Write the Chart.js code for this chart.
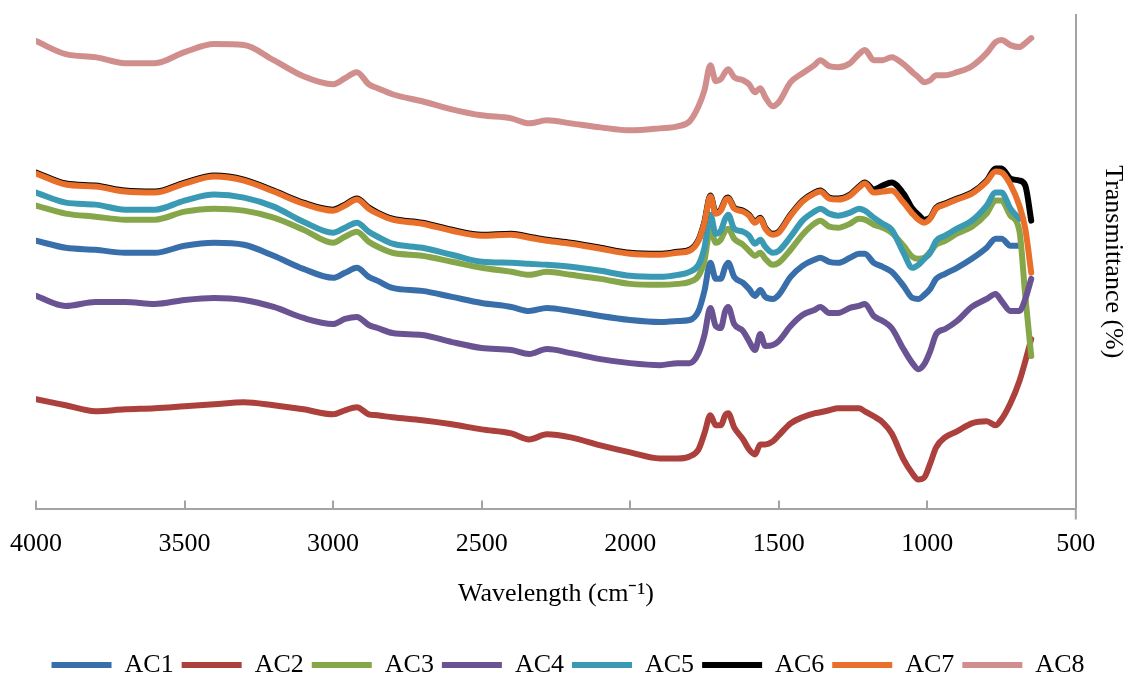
<!DOCTYPE html>
<html>
<head>
<meta charset="utf-8">
<script src="https://cdn.jsdelivr.net/npm/chart.js@4/dist/chart.umd.min.js"></script>
<style>
  html, body { margin: 0; padding: 0; background: #fff; overflow: hidden; }
</style>
</head>
<body>
<canvas id="ftir" width="1130" height="675"></canvas>
<script>
// FTIR spectra, transmittance in arbitrary units (curves are offset, no y ticks)
const wavenumbers = [4000, 3900, 3800, 3700, 3600, 3500, 3400, 3300, 3200, 3100,
  3000, 2960, 2920, 2880, 2850, 2800, 2700, 2600, 2500, 2400,
  2340, 2280, 2200, 2100, 2000, 1900, 1840, 1800, 1770, 1750,
  1730, 1712, 1695, 1680, 1670, 1650, 1620, 1600, 1580, 1562,
  1545, 1520, 1500, 1460, 1420, 1380, 1360, 1330, 1300, 1260,
  1230, 1210, 1180, 1150, 1120, 1080, 1050, 1030, 1010, 990,
  970, 940, 900, 850, 800, 770, 750, 720, 690, 670,
  650];

const ac1 = [267, 260, 258, 255, 255, 262, 265, 263, 252, 239,
  230, 235, 240, 231, 227, 220, 217, 211, 205, 201,
  197, 200, 197, 192, 188, 186, 187, 188, 197, 217,
  245, 229, 229, 241, 245, 231, 225, 219, 212, 218,
  211, 209, 213, 231, 242, 248, 250, 246, 245, 250,
  254, 254, 245, 241, 236, 222, 210, 209, 213, 219,
  229, 234, 240, 249, 260, 269, 269, 262, 262, null,
  null];

const ac2 = [109, 103, 97, 99, 100, 102, 104, 106, 103, 99,
  94, 98, 101, 94, 93, 91, 88, 84, 79, 75,
  69, 74, 71, 63, 56, 50, 50, 52, 59, 75,
  93, 83, 83, 93, 95, 81, 69, 59, 54, 64,
  64, 67, 73, 85, 91, 95, 96, 98, 100, 100,
  100, 97, 92, 86, 75, 49, 35, 29, 31, 45,
  61, 71, 77, 85, 87, 83, 89, 105, 127, 147,
  169];

const ac3 = [302, 294, 291, 288, 288, 296, 299, 297, 290, 278,
  265, 271, 276, 266, 261, 255, 252, 246, 240, 236,
  233, 236, 233, 229, 224, 223, 224, 226, 232, 247,
  279, 265, 268, 277, 279, 269, 263, 257, 252, 255,
  249, 243, 245, 258, 273, 284, 287, 281, 280, 284,
  289, 288, 283, 280, 275, 262, 251, 249, 250, 256,
  263, 267, 274, 281, 294, 307, 307, 292, 277, 212,
  152];

const ac4 = [212, 202, 206, 206, 204, 208, 210, 208, 201, 190,
  184, 189, 191, 183, 180, 175, 173, 166, 160, 158,
  154, 159, 155, 149, 145, 143, 145, 145, 155, 173,
  200, 182, 180, 197, 201, 184, 177, 167, 158, 174,
  162, 163, 167, 182, 193, 198, 201, 195, 195, 200,
  202, 204, 192, 187, 180, 159, 145, 139, 144, 157,
  174, 179, 187, 201, 209, 214, 207, 197, 197, 209,
  229];

const ac5 = [315, 305, 303, 298, 298, 307, 313, 310, 301, 286,
  275, 280, 285, 276, 271, 264, 260, 253, 246, 245,
  244, 243, 241, 237, 232, 231, 233, 236, 243, 260,
  293, 274, 277, 289, 293, 279, 276, 272, 264, 268,
  261, 255, 257, 271, 287, 296, 299, 294, 292, 295,
  299, 297, 290, 284, 278, 255, 240, 243, 249, 255,
  267, 272, 279, 287, 302, 315, 315, 299, 289, null,
  null];

const ac6 = [335, 324, 322, 317, 316, 325, 332, 328, 317, 305,
  298, 303, 309, 300, 295, 289, 285, 278, 273, 274,
  271, 268, 265, 260, 255, 254, 256, 258, 268, 286,
  312, 295, 298, 308, 310, 300, 297, 293, 286, 290,
  280, 274, 276, 293, 307, 315, 317, 310, 309, 313,
  321, 325, 318, 322, 325, 314, 299, 293, 288, 290,
  300, 304, 309, 315, 327, 339, 339, 329, 327, 322,
  287];

const ac7 = [334, 323, 321, 316, 315, 324, 331, 327, 316, 304,
  297, 302, 308, 299, 294, 288, 284, 277, 272, 273,
  270, 267, 264, 259, 254, 253, 255, 257, 267, 285,
  311, 294, 297, 307, 309, 299, 296, 292, 285, 289,
  279, 273, 275, 292, 306, 314, 316, 309, 308, 312,
  320, 324, 315, 316, 317, 305, 294, 288, 285, 289,
  299, 303, 308, 314, 326, 336, 335, 323, 302, 279,
  235];

const ac8 = [466, 453, 450, 444, 444, 455, 463, 462, 447, 431,
  423, 429, 435, 423, 419, 413, 406, 398, 392, 389,
  384, 387, 384, 380, 377, 379, 381, 386, 401, 417,
  442, 426, 428, 435, 438, 430, 427, 423, 415, 419,
  410, 401, 405, 425, 434, 442, 447, 441, 440, 444,
  453, 457, 447, 447, 450, 443, 435, 430, 425, 427,
  432, 432, 435, 441, 454, 465, 467, 462, 460, 464,
  469];

const seriesNames = ['AC1', 'AC2', 'AC3', 'AC4', 'AC5', 'AC6', 'AC7', 'AC8'];
const seriesValues = [ac1, ac2, ac3, ac4, ac5, ac6, ac7, ac8];
const seriesColors = ['#386faa', '#ab403c', '#86a64a', '#6a5393', '#3a9ab4', '#000000', '#e8702a', '#d08f8d'];
const xTickValues = [4000, 3500, 3000, 2500, 2000, 1500, 1000, 500];

const axisColor = '#a3a3a3';
const serif = { family: '"Liberation Serif", "Times New Roman", serif', size: 26 };

// Excel-style inner tick marks on the x axis, plus the short stub of the right axis
const innerTicks = {
  id: 'innerTicks',
  afterDraw(chart) {
    const { ctx, chartArea, scales } = chart;
    const x = scales.x;
    ctx.save();
    ctx.strokeStyle = axisColor;
    ctx.lineWidth = 2;
    ctx.beginPath();
    x.ticks.forEach(t => {
      const px = Math.round(x.getPixelForValue(t.value));
      ctx.moveTo(px, chartArea.bottom);
      ctx.lineTo(px, chartArea.bottom - 8);
    });
    ctx.moveTo(chartArea.right, chartArea.bottom);
    ctx.lineTo(chartArea.right, chartArea.bottom + 11);
    ctx.stroke();
    ctx.restore();
  }
};

const datasets = seriesNames.map((name, i) => ({
  label: name,
  data: wavenumbers.map((w, j) => ({ x: w, y: seriesValues[i][j] })),
  borderColor: seriesColors[i],
  backgroundColor: seriesColors[i],
  borderWidth: 6,
  borderCapStyle: 'round',
  borderJoinStyle: 'round',
  pointRadius: 0,
  cubicInterpolationMode: 'monotone',
  spanGaps: false,
  order: seriesNames.length - i   // later series drawn on top, like Excel
}));

new Chart(document.getElementById('ftir'), {
  type: 'line',
  data: { datasets },
  options: {
    responsive: false,
    animation: false,
    layout: { padding: { top: 15, left: 6, right: 0, bottom: -13 } },
    scales: {
      x: {
        type: 'linear',
        reverse: true,
        min: 500,
        max: 4000,
        afterBuildTicks: s => { s.ticks = xTickValues.map(v => ({ value: v })); },
        afterFit: s => { s.paddingLeft = 36; },
        grid: { display: false, drawTicks: false },
        border: { display: true, color: axisColor, width: 2 },
        ticks: { font: serif, color: '#000', padding: 20, maxRotation: 0, autoSkip: false, callback: v => String(v) },
        title: { display: true, text: 'Wavelength (cm\u207B\u00B9)', font: serif, color: '#000', padding: { top: -1, bottom: 34 } }
      },
      y: {
        position: 'right',
        min: 0,
        max: 492,
        grid: { display: false, drawTicks: false },
        border: { display: true, color: axisColor, width: 2 },
        ticks: { display: false },
        title: { display: true, text: 'Transmittance (%)', font: serif, color: '#000', padding: { top: 2, bottom: 21 } }
      }
    },
    plugins: {
      legend: {
        position: 'bottom',
        labels: {
          font: serif,
          color: '#000',
          usePointStyle: true,
          pointStyle: 'line',
          pointStyleWidth: 60,
          padding: 8,
          sort: (a, b) => a.datasetIndex - b.datasetIndex
        }
      },
      tooltip: { enabled: false }
    }
  },
  plugins: [innerTicks]
});
</script>
</body>
</html>
